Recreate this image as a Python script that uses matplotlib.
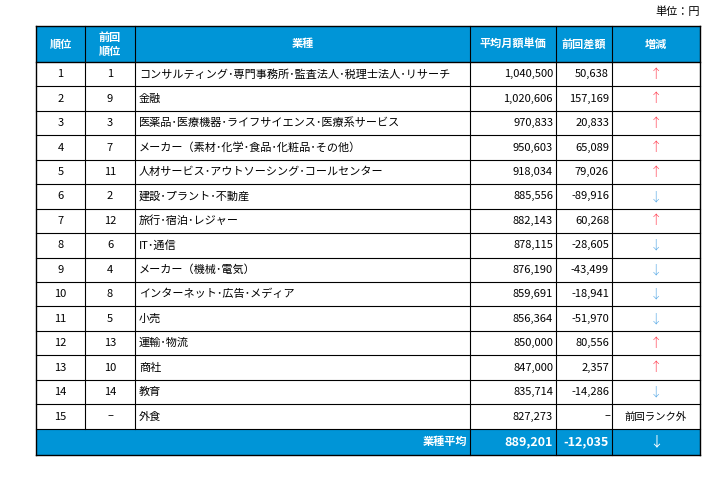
import matplotlib
matplotlib.use("Agg")
import matplotlib.pyplot as plt
from matplotlib.patches import Rectangle

ranks = list(range(1, 16))
prev_ranks = ["1","9","3","7","11","2","12","6","4","8","5","13","10","14","–"]
industries = ["コンサルティング･専門事務所･監査法人･税理士法人･リサーチ","金融",
    "医薬品･医療機器･ライフサイエンス･医療系サービス","メーカー（素材･化学･食品･化粧品･その他）",
    "人材サービス･アウトソーシング･コールセンター","建設･プラント･不動産","旅行･宿泊･レジャー",
    "IT･通信","メーカー（機械･電気）","インターネット･広告･メディア","小売","運輸･物流","商社","教育","外食"]
avg_price = [1040500,1020606,970833,950603,918034,885556,882143,878115,876190,859691,856364,850000,847000,835714,827273]
diff = [50638,157169,20833,65089,79026,-89916,60268,-28605,-43499,-18941,-51970,80556,2357,-14286,None]
headers = ["順位","前回\n順位","業種","平均月額単価","前回差額","増減"]
avg_total = 889201
avg_diff = -12035

plt.rcParams["font.family"] = "Noto Sans CJK JP"
W, H = 720, 484
fig = plt.figure(figsize=(W/100, H/100), dpi=100)
ax = fig.add_axes([0, 0, 1, 1])
ax.set_xlim(0, W); ax.set_ylim(H, 0); ax.axis("off")

blue = "#0095D7"
red = "#FF3B4E"
lblue = "#5AAAE6"
cols = [36, 85, 135, 470, 556, 612, 700]
ytop, yh = 26, 62
rh = 24.45
fs = 8

ax.add_patch(Rectangle((cols[0], ytop), cols[-1]-cols[0], yh-ytop, fc=blue, ec="none"))
for i, h in enumerate(headers):
    ax.text((cols[i]+cols[i+1])/2, (ytop+yh)/2, h, color="white", fontsize=fs, fontweight="bold",
            ha="center", va="center", linespacing=1.1)
ax.text(700, 12, "単位：円", fontsize=fs, ha="right", va="center")

for r in range(15):
    y0 = yh + r*rh
    yc = y0 + rh/2
    ax.text((cols[0]+cols[1])/2, yc, str(ranks[r]), fontsize=fs, ha="center", va="center")
    ax.text((cols[1]+cols[2])/2, yc, prev_ranks[r], fontsize=fs, ha="center", va="center")
    ax.text(cols[2]+4, yc, industries[r], fontsize=fs, ha="left", va="center")
    ax.text(cols[4]-3, yc, f"{avg_price[r]:,}", fontsize=fs, ha="right", va="center")
    d = diff[r]
    if d is None:
        ax.text(cols[5]-2, yc, "–", fontsize=fs, ha="right", va="center")
        ax.text((cols[5]+cols[6])/2, yc, "前回ランク外", fontsize=7.5, ha="center", va="center")
    else:
        ax.text(cols[5]-3, yc, f"{d:,}", fontsize=fs, ha="right", va="center")
        ax.text((cols[5]+cols[6])/2, yc, "↑" if d > 0 else "↓", fontsize=fs+1,
                color=red if d > 0 else lblue, ha="center", va="center", fontweight="light")
    ax.plot([cols[0], cols[-1]], [y0+rh, y0+rh], color="black", lw=0.8)

yf0 = yh + 15*rh
yf1 = yf0 + 26
ax.add_patch(Rectangle((cols[0], yf0), cols[-1]-cols[0], yf1-yf0, fc=blue, ec="none"))
yc = (yf0+yf1)/2
ax.text(cols[3]-3, yc, "業種平均", color="white", fontsize=fs, fontweight="bold", ha="right", va="center")
ax.text(cols[4]-3, yc, f"{avg_total:,}", color="white", fontsize=fs+1, fontweight="bold", ha="right", va="center")
ax.text(cols[5]-3, yc, f"{avg_diff:,}", color="white", fontsize=fs+1, fontweight="bold", ha="right", va="center")
ax.text((cols[5]+cols[6])/2, yc, "↓", color="white", fontsize=fs+2, ha="center", va="center")

for i, x in enumerate(cols):
    if i in (0, 6):
        ax.plot([x, x], [ytop, yf1], color="black", lw=1)
    elif i in (1, 2):
        ax.plot([x, x], [ytop, yf0], color="black", lw=0.8)
    else:
        ax.plot([x, x], [ytop, yf1], color="black", lw=0.8)
for y in (ytop, yh, yf1):
    ax.plot([cols[0], cols[-1]], [y, y], color="black", lw=1)

fig.savefig("out.png", dpi=100)
